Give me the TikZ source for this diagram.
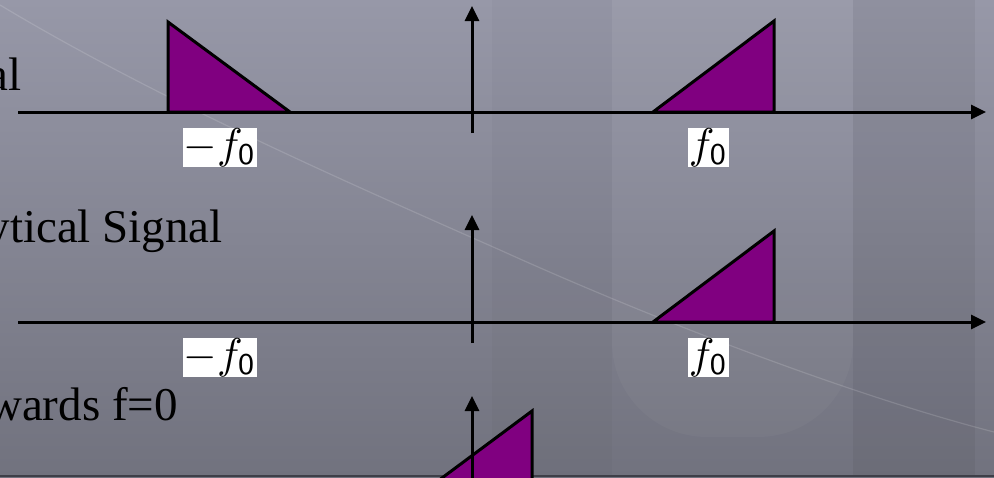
\documentclass[tikz,border=0pt]{standalone}
\usepackage{fontspec}
\setmainfont{Liberation Serif}
\usetikzlibrary{arrows.meta}
\definecolor{bgtop}{RGB}{151,152,168}
\definecolor{bgbot}{RGB}{113,114,126}
\definecolor{spec}{RGB}{128,0,128}
\definecolor{edge}{RGB}{62,63,72}
\begin{document}
\begin{tikzpicture}[x=1pt,y=-1pt,
  axisline/.style={line width=3pt,-{Triangle[length=15pt,width=14pt]}},
  specbox/.style={fill=spec,draw=black,line width=3pt,line join=miter},
  freqlbl/.style={fill=white,inner sep=0.15pt,scale=4.3,font=\fontsize{10}{10}\selectfont},
  title/.style={anchor=base east,inner sep=0pt,font=\fontsize{47}{47}\selectfont}]
\useasboundingbox (0,0) rectangle (994,477);
\clip (0,0) rectangle (994,477);
% background
\shade[top color=bgtop,bottom color=bgbot] (0,0) rectangle (994,477);
\fill[black,opacity=0.025] (492,0) rectangle (612,477);
\fill[white,opacity=0.03,rounded corners=95pt] (612,-120) rectangle (853,437);
\fill[black,opacity=0.05] (853,0) rectangle (975,477);
\draw[white,opacity=0.14,line width=1.2pt] (0,5) .. controls (150,95) and (330,175) .. (500,250) .. controls (650,318) and (850,395) .. (994,432);
\fill[edge] (0,475) rectangle (994,477);
% panel 1
\coordinate (h1s) at (18,112);
\coordinate (h1e) at (986,112);
\coordinate (v1s) at (472,133);
\coordinate (v1e) at (472,6);
\draw[specbox] (168,112) -- (168,22) -- (290,112) -- cycle;
\draw[specbox] (653,112) -- (774,21) -- (774,112) -- cycle;
\draw[axisline] (h1s) -- (h1e);
\draw[axisline] (v1s) -- (v1e);
\node[freqlbl] (m1) at (220,147.5) {$-f_{\mathsf{0}}$};
\node[freqlbl] (p1) at (708.5,147.5) {$f_{\mathsf{0}}$};
\node[title] (t1) at (22,90) {al};
% panel 2
\coordinate (h2s) at (18,322);
\coordinate (h2e) at (986,322);
\coordinate (v2s) at (472,343);
\coordinate (v2e) at (472,215);
\draw[specbox] (653,322) -- (774,231) -- (774,322) -- cycle;
\draw[axisline] (h2s) -- (h2e);
\draw[axisline] (v2s) -- (v2e);
\node[freqlbl] (m2) at (220,357.5) {$-f_{\mathsf{0}}$};
\node[freqlbl] (p2) at (708.5,357.5) {$f_{\mathsf{0}}$};
\node[title] (t2) at (223,242) {ytical Signal};
% panel 3
\coordinate (v3s) at (472,522);
\coordinate (v3e) at (472,396);
\draw[specbox] (411,501) -- (532,411) -- (532,501) -- cycle;
\draw[axisline] (v3s) -- (v3e);
\node[title] (t3) at (178,420) {wards f=0};
\end{tikzpicture}
\end{document}
